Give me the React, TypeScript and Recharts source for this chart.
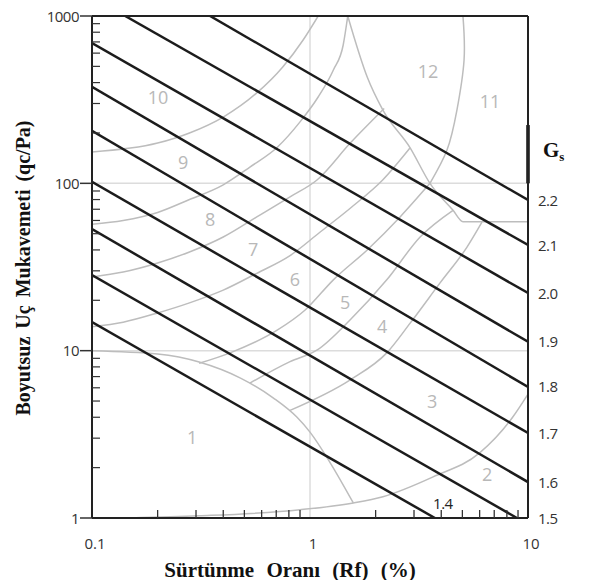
import { ComposedChart, Line, Scatter, XAxis, YAxis, ReferenceLine } from "recharts";

// Gs (birim hacim ağırlık) çizgileri: başlangıç ve bitiş noktaları [Rf %, qc/Pa]
const gsValues = [1.4, 1.5, 1.6, 1.7, 1.8, 1.9, 2.0, 2.1, 2.2];
const gsStartRf = [0.1, 0.1, 0.1, 0.1, 0.1, 0.1, 0.1, 0.142, 0.348];
const gsStartQ = [14.8, 28.3, 53.3, 102, 206, 377, 690, 1000, 1000];
const gsEndRf = [3.74, 8.9, 10, 10, 10, 10, 10, 10, 10];
const gsEndQ = [1, 1, 1.64, 3.22, 6.07, 11.3, 22.1, 42.8, 79.5];

// eksen işaretleri
const rfMajor = [0.1, 1, 10];
const rfMinor = [0.2, 0.3, 0.4, 0.5, 0.6, 0.7, 0.8, 0.9, 2, 3, 4, 5, 6, 7, 8, 9];
const qMajor = [1, 10, 100, 1000];
const qMinor = [2, 3, 4, 5, 6, 7, 8, 9, 20, 30, 40, 50, 60, 70, 80, 90, 200, 300, 400, 500, 600, 700, 800, 900];

// zemin sınıfı bölge sınırları (gri eğriler)
const b10to9 = [[0.1, 154], [0.2, 174], [0.28, 200], [0.4, 249], [0.57, 347], [0.75, 496], [0.93, 719], [1.09, 1000]];
const b9to8 = [[0.1, 57], [0.139, 60], [0.2, 67], [0.28, 80], [0.4, 98], [0.53, 125], [0.71, 165], [0.9, 233], [1.09, 328], [1.28, 476], [1.42, 671], [1.49, 1000]];
const b8to7 = [[0.1, 27.6], [0.139, 29.5], [0.2, 33.4], [0.28, 38.9], [0.4, 47.8], [0.57, 63], [0.81, 83], [1.08, 105], [1.53, 174], [2.19, 280]];
const b7to6 = [[0.1, 13.9], [0.139, 14.8], [0.2, 16.8], [0.28, 19.3], [0.4, 23], [0.57, 29], [0.81, 37], [1.11, 51], [1.53, 71], [2.16, 105], [2.88, 163]];
const b6to5 = [[0.31, 8.4], [0.43, 9.7], [0.71, 13.3], [0.95, 17.5], [1.28, 26.5], [1.83, 40], [2.59, 63], [3.55, 100]];
const b5to4 = [[0.53, 6.4], [0.81, 8.6], [1.08, 10.1], [1.53, 15.3], [2.25, 26.5], [3.2, 47.8], [4.53, 69]];
const b4to3 = [[0.81, 4.4], [1.53, 6.7], [2.25, 9.7], [2.88, 14.6], [3.95, 25.4], [5.25, 41.6], [6.15, 58.7]];
const zone1Edge = [[0.1, 10], [0.2, 9.55], [0.31, 8.56], [0.48, 6.86], [0.68, 5.21], [0.87, 4.01], [1.0, 3.26], [1.24, 2.13], [1.58, 1.23]];
const zone2Edge = [[0.15, 1], [0.31, 1.03], [0.9, 1.12], [1.58, 1.23], [2.16, 1.34], [3.67, 1.76], [6.0, 2.45], [8.5, 4.0], [10, 5.5]];
const zone12Edge = [[1.49, 1000], [1.83, 432], [2.16, 274], [2.88, 163], [3.55, 100], [4.53, 69], [5.03, 59], [10, 59]];
const zone11Edge = [[5.03, 1000], [5.09, 546], [4.72, 274], [4.25, 158], [3.55, 100]];

// bölge numaraları
const zoneNames = ["1", "2", "3", "4", "5", "6", "7", "8", "9", "10", "11", "12"];
const zoneRf = [0.288, 6.49, 3.63, 2.14, 1.45, 0.853, 0.548, 0.348, 0.262, 0.201, 6.69, 3.48];
const zoneQ = [3.0, 1.81, 4.93, 13.8, 19.3, 26.4, 40, 60.4, 132, 324, 306, 463];

const toPts = (arr: number[][]) => arr.map(([x, y]) => ({ x, y }));

const grayCurves = [
  { id: "b10to9", pts: b10to9, type: "monotone" },
  { id: "b9to8", pts: b9to8, type: "monotone" },
  { id: "b8to7", pts: b8to7, type: "monotone" },
  { id: "b7to6", pts: b7to6, type: "monotone" },
  { id: "b6to5", pts: b6to5, type: "monotone" },
  { id: "b5to4", pts: b5to4, type: "monotone" },
  { id: "b4to3", pts: b4to3, type: "monotone" },
  { id: "zone1", pts: zone1Edge, type: "monotone" },
  { id: "zone2", pts: zone2Edge, type: "monotone" },
  { id: "zone12", pts: zone12Edge, type: "monotone" },
  { id: "zone11", pts: zone11Edge, type: "natural" },
];

const gsLines = gsValues.map((g, i) => ({
  id: "gs" + g,
  pts: [
    { x: gsStartRf[i], y: gsStartQ[i] },
    { x: gsEndRf[i], y: gsEndQ[i] },
  ],
}));

const zoneLabels = zoneNames.map((name, i) => ({ name, x: zoneRf[i], y: zoneQ[i] }));
const lineLabels = [{ name: "1.4", x: 4.07, y: 1.23 }];

const tickFont = "'Open Sans', 'DejaVu Sans', sans-serif";
const serif = "'Liberation Serif', 'Times New Roman', serif";

const BottomTick = (props: any) => {
  const { x, y, payload } = props;
  const v = payload.value;
  if (rfMajor.includes(v)) {
    return (
      <text x={x + 3} y={y + 31} textAnchor="middle" fontSize={15} fontFamily={tickFont} fill="#333">
        {v}
      </text>
    );
  }
  return <line x1={x} x2={x} y1={y} y2={y - 8} stroke="#333" strokeWidth={1.3} />;
};

const TopTick = (props: any) => {
  const { x, y } = props;
  return <line x1={x} x2={x} y1={y} y2={y + 9} stroke="#333" strokeWidth={1.3} />;
};

const LeftTick = (props: any) => {
  const { x, y, payload } = props;
  const v = payload.value;
  if (qMajor.includes(v)) {
    return (
      <g>
        <line x1={x - 12} x2={x} y1={y} y2={y} stroke="#333" strokeWidth={1.5} />
        <text x={x - 13} y={y + 5.5} textAnchor="end" fontSize={15} fontFamily={tickFont} fill="#333" letterSpacing={-0.5}>
          {v}
        </text>
      </g>
    );
  }
  return <line x1={x} x2={x + 8} y1={y} y2={y} stroke="#333" strokeWidth={1.2} />;
};

const RightTick = (props: any) => {
  const { x, y, payload } = props;
  const i = gsEndQ.indexOf(payload.value, 1);
  return (
    <text x={x + 10} y={y + 5.5} textAnchor="start" fontSize={15} fontFamily={tickFont} fill="#333" letterSpacing={-0.5}>
      {gsValues[i].toFixed(1)}
    </text>
  );
};

const ZoneLabel = (props: any) => (
  <text x={props.cx} y={props.cy + 6} textAnchor="middle" fontSize={18} fontFamily={tickFont} fill="#b8b8b8">
    {props.payload.name}
  </text>
);

const LineLabel = (props: any) => (
  <text x={props.cx} y={props.cy + 6} textAnchor="middle" fontSize={15} fontFamily={tickFont} fill="#222" letterSpacing={-0.5}>
    {props.payload.name}
  </text>
);

export default function App() {
  return (
    <div style={{ position: "relative", width: 576, height: 580, marginTop: -8 }}>
      <ComposedChart width={576} height={580} margin={{ top: 8, right: 6, bottom: 0, left: 24 }}>
        <XAxis
          xAxisId="b"
          dataKey="x"
          type="number"
          scale="log"
          domain={[0.1, 10]}
          allowDataOverflow
          ticks={[...rfMajor, ...rfMinor]}
          interval={0}
          tickSize={0}
          tickMargin={0}
          tickLine={false}
          tick={BottomTick}
          height={62}
          axisLine={{ stroke: "#222", strokeWidth: 2 }}
        />
        <XAxis
          xAxisId="t"
          orientation="top"
          type="number"
          scale="log"
          domain={[0.1, 10]}
          allowDataOverflow
          ticks={rfMinor}
          interval={0}
          tickSize={0}
          tickMargin={0}
          tickLine={false}
          tick={TopTick}
          height={8}
          axisLine={{ stroke: "#222", strokeWidth: 2 }}
        />
        <YAxis
          yAxisId="l"
          dataKey="y"
          type="number"
          scale="log"
          domain={[1, 1000]}
          allowDataOverflow
          ticks={[...qMajor, ...qMinor]}
          interval={0}
          tickSize={0}
          tickMargin={0}
          tickLine={false}
          tick={LeftTick}
          width={60}
          axisLine={{ stroke: "#222", strokeWidth: 2 }}
        />
        <YAxis
          yAxisId="r"
          orientation="right"
          type="number"
          scale="log"
          domain={[1, 1000]}
          allowDataOverflow
          ticks={gsEndQ.slice(1)}
          interval={0}
          tickSize={0}
          tickMargin={0}
          tickLine={false}
          tick={RightTick}
          width={50}
          axisLine={{ stroke: "#222", strokeWidth: 2 }}
        />

        {/* ızgara */}
        <ReferenceLine xAxisId="b" yAxisId="l" x={1} stroke="#dcdcdc" strokeWidth={1.5} />
        <ReferenceLine xAxisId="b" yAxisId="l" y={10} stroke="#dcdcdc" strokeWidth={1.5} />
        <ReferenceLine xAxisId="b" yAxisId="l" y={100} stroke="#dcdcdc" strokeWidth={1.5} />

        {grayCurves.map((c) => (
          <Line
            key={c.id}
            xAxisId="b"
            yAxisId="l"
            data={toPts(c.pts)}
            dataKey="y"
            type={c.type as any}
            stroke="#bdbdbd"
            strokeWidth={1.5}
            dot={false}
            activeDot={false}
            isAnimationActive={false}
          />
        ))}

        {gsLines.map((l) => (
          <Line
            key={l.id}
            xAxisId="b"
            yAxisId="l"
            data={l.pts}
            dataKey="y"
            type="linear"
            stroke="#1c1c1c"
            strokeWidth={2.5}
            dot={false}
            activeDot={false}
            isAnimationActive={false}
          />
        ))}

        <ReferenceLine
          xAxisId="b"
          yAxisId="l"
          segment={[{ x: 10, y: 100 }, { x: 10, y: 223 }]}
          stroke="#111"
          strokeWidth={3.5}
        />

        <Scatter xAxisId="b" yAxisId="l" data={zoneLabels} dataKey="y" shape={ZoneLabel} isAnimationActive={false} />
        <Scatter xAxisId="b" yAxisId="l" data={lineLabels} dataKey="y" shape={LineLabel} isAnimationActive={false} />
      </ComposedChart>

      <div
        style={{
          position: "absolute",
          left: 82,
          top: 560,
          width: 400,
          textAlign: "center",
          fontFamily: serif,
          fontWeight: "bold",
          fontSize: 21,
          lineHeight: "21px",
          wordSpacing: 7,
          whiteSpace: "nowrap",
          color: "#111",
        }}
      >
        Sürtünme Oranı (Rf) (%)
      </div>
      <div
        style={{
          position: "absolute",
          left: 15 - 200,
          top: 258,
          width: 400,
          height: 20,
          textAlign: "center",
          fontFamily: serif,
          fontWeight: "bold",
          fontSize: 20,
          lineHeight: "20px",
          wordSpacing: 3,
          whiteSpace: "nowrap",
          color: "#111",
          transform: "rotate(-90deg)",
        }}
      >
        Boyutsuz Uç Mukavemeti (qc/Pa)
      </div>
      <div
        style={{
          position: "absolute",
          left: 535,
          top: 140,
          fontFamily: serif,
          fontWeight: "bold",
          fontSize: 21,
          lineHeight: "21px",
          color: "#111",
        }}
      >
        G<span style={{ fontSize: 13, position: "relative", top: 4 }}>s</span>
      </div>
    </div>
  );
}
